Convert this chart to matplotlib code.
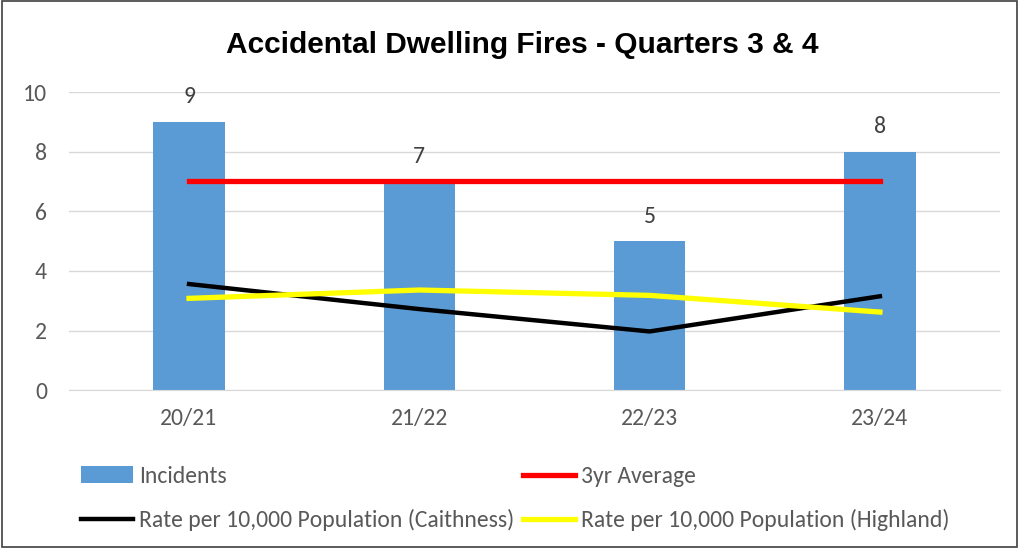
import matplotlib.pyplot as plt
import numpy as np

years = ["20/21", "21/22", "22/23", "23/24"]
incidents = [9, 7, 5, 8]
avg_3yr = [7, 7, 7, 7]
rate_caithness = [3.56, 2.72, 1.97, 3.15]
rate_highland = [3.08, 3.36, 3.18, 2.62]

plt.rcParams['font.family'] = ['Carlito', 'Liberation Sans', 'DejaVu Sans']

fig = plt.figure(figsize=(10.19, 5.48), dpi=100)
ax = fig.add_axes([0.068, 0.288, 0.913, 0.544])

x = np.arange(len(years))
b = ax.bar(x, incidents, width=0.31, color="#5b9bd5", label="Incidents", zorder=2)
l_avg, = ax.plot(x, avg_3yr, color="#ff0000", lw=3.8, label="3yr Average", zorder=3)
l_cai, = ax.plot(x, rate_caithness, color="black", lw=3.2,
                 label="Rate per 10,000 Population (Caithness)", zorder=3)
l_hig, = ax.plot(x, rate_highland, color="#ffff00", lw=3.8,
                 label="Rate per 10,000 Population (Highland)", zorder=3)

for xi, v in zip(x, incidents):
    ax.text(xi, v + 0.84, str(v), ha="center", va="center", fontsize=17, color="#404040")

ax.set_xlim(-0.52, 3.52)
ax.set_ylim(0, 10)
ax.set_yticks([0, 2, 4, 6, 8, 10])
ax.set_xticks(x)
ax.set_xticklabels(years)
ax.grid(axis="y", color="#d9d9d9", lw=1, zorder=0)
for s in ["top", "right", "left"]:
    ax.spines[s].set_visible(False)
ax.spines["bottom"].set_color("#d9d9d9")
ax.tick_params(length=0, labelsize=17, colors="#595959")
ax.tick_params(axis="y", pad=16)
ax.tick_params(axis="x", pad=13)

fig.text(0.513, 0.918, "Accidental Dwelling Fires - Quarters 3 & 4", ha="center", va="center",
         fontsize=21.5, fontweight="bold", family=["Liberation Sans", "DejaVu Sans"])

handles = [b, l_cai, l_avg, l_hig]
fig.legend(handles, [h.get_label() for h in handles], loc="upper left",
           bbox_to_anchor=(0.0795, 0.15), ncol=2, frameon=False, fontsize=17,
           labelcolor="#595959", handlelength=2.2, handletextpad=0.25,
           borderaxespad=0, borderpad=0, labelspacing=0.95, columnspacing=0.38)

fig.patches.append(plt.Rectangle((0.002, 0.002), 0.996, 0.996, transform=fig.transFigure,
                                 fill=False, edgecolor="#404040", lw=1.2))

fig.savefig("out.png", dpi=100)
